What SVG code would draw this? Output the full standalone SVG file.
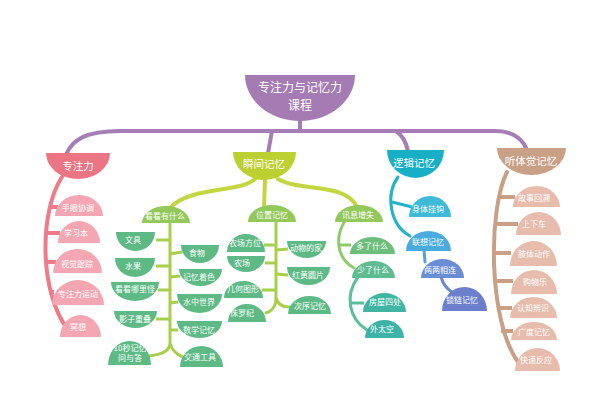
<svg xmlns="http://www.w3.org/2000/svg" width="600" height="400" viewBox="0 0 600 400">
<style>
text{font-family:"Noto Sans CJK SC","Noto Sans",sans-serif;fill:#fff;text-anchor:middle}
.t{font-size:8px}
.m{font-size:10.5px}
.r{font-size:12px}
.c{fill:none;stroke-width:4;stroke-linecap:round}
.thin{stroke-width:3}
.b{stroke-linecap:butt}
</style>
<rect width="600" height="400" fill="#fff"/>
<g id="connectors">
<path class="c" stroke="#A57EB6" d="M300 120 L300 131 M66 155 C72 140 85 131 120 131 L495 131 C515 131 523 140 527 150 M272 131 L268 153 M396 131 C402 135 406 142 408 151"/>
<path class="c" stroke="#EF7A89" d="M62 177 C40 210 38 290 68 330"/>
<path class="c b" stroke="#EF7A89" d="M49 207 L58 207 M46 233 L60 233 M45 262 L56 262 M49 292 L54 292"/>
<path class="c" stroke="#C3D640" d="M255 179 C240 193 190 186 170 208 M265 180 L264 207 M278 179 C300 192 345 182 357 207"/>
<path class="c thin" stroke="#A8CF4A" d="M170 222 L170 343 C170 352 160 355 148 356 M170 343 C172 352 178 355 183 357"/>
<path class="c thin b" stroke="#A8CF4A" d="M170 240 L156 240 M170 266 L156 266 M170 290 L158 290 M170 319 L156 319 M170 254 L182 252 M170 277 L180 276 M170 303 L178 302 M170 330 L178 330"/>
<path class="c thin" stroke="#A8CF4A" d="M276 221 L276 298 C276 308 270 312 266 313 M276 298 C278 305 283 307 289 307"/>
<path class="c thin b" stroke="#A8CF4A" d="M276 245 L264 245 M276 263 L265 263 M276 290 L262 290 M276 250 L288 249 M276 274 L288 275"/>
<path class="c thin" stroke="#8FCA68" d="M345 221 C335 236 336 258 354 268"/>
<path class="c thin b" stroke="#8FCA68" d="M339 245 L351 245"/>
<path class="c thin" stroke="#5CBE9C" d="M358 277 C345 295 348 318 367 330"/>
<path class="c thin b" stroke="#5CBE9C" d="M349 303 L364 303"/>
<path class="c thin" stroke="#22B2CC" d="M398 177 C385 195 390 225 410 236"/>
<path class="c thin b" stroke="#22B2CC" d="M392 202 L412 207"/>
<path class="c thin" stroke="#58A0DC" d="M424 250 L425 262"/>
<path class="c thin" stroke="#6B88D3" d="M441 277 C443 284 447 289 452 292"/>
<path class="c" stroke="#C9A085" d="M507 172 C488 210 488 320 518 362"/>
<path class="c b" stroke="#C9A085" d="M499 197 L515 197 M496 224 L518 224 M494 253 L511 253 M495 281 L513 281 M497 308 L512 308 M501 331 L513 331"/>
</g>
<g id="root"><path fill="#A47BB2" d="M245 75 L355 75 A55 46 0 0 1 245 75 Z"/><text class="r" x="300" y="92">专注力与记忆力</text><text class="r" x="300" y="110">课程</text></g>
<g id="n-zhuanzhuli"><path fill="#EC7584" d="M46 153 L110 153 A32 26 0 0 1 46 153 Z"/><text class="m" x="78" y="170">专注力</text></g>
<g id="n-shunjian"><path fill="#BCD031" d="M233 152 L296 152 A31.5 28 0 0 1 233 152 Z"/><text class="m" x="264" y="168">瞬间记忆</text></g>
<g id="n-luoji"><path fill="#16AFC5" d="M387 150 L444 150 A28.5 28 0 0 1 387 150 Z"/><text class="m" x="414" y="167">逻辑记忆</text></g>
<g id="n-tingti"><path fill="#C9A086" d="M497 148 L566 148 A34.5 27 0 0 1 497 148 Z"/><text class="m" x="531" y="165">听体觉记忆</text></g>

<g id="n-shouyan"><path fill="#F4A7B2" d="M55 216 L103 216 A24 21 0 0 0 55 216 Z"/><text class="t" x="78" y="211">手眼协调</text></g>
<g id="n-xuexiben"><path fill="#F4A7B2" d="M58 243 L100 243 A21 22 0 0 0 58 243 Z"/><text class="t" x="76" y="236">学习本</text></g>
<g id="n-shijue"><path fill="#F4A7B2" d="M53 273 L102 273 A24.5 24 0 0 0 53 273 Z"/><text class="t" x="77" y="267">视觉跟踪</text></g>
<g id="n-yundong"><path fill="#F4A7B2" d="M52 305 L104 305 A26 25 0 0 0 52 305 Z"/><text class="t" x="78" y="297">专注力运动</text></g>
<g id="n-mingxiang"><path fill="#F4A7B2" d="M60 337 L101 337 A20.5 22 0 0 0 60 337 Z"/><text class="t" x="78" y="330">冥想</text></g>

<g id="n-kankan"><path fill="#93C95B" d="M142 223 L190 223 A24 17 0 0 0 142 223 Z"/><text class="t" x="165" y="219">看看有什么</text></g>
<g id="n-weizhi"><path fill="#93C95B" d="M248 222 L296 222 A24 17 0 0 0 248 222 Z"/><text class="t" x="272" y="218">位置记忆</text></g>
<g id="n-xunxi"><path fill="#93C95B" d="M335 222 L383 222 A24 17 0 0 0 335 222 Z"/><text class="t" x="358" y="218">讯息增失</text></g>

<g id="n-wenju"><path fill="#5DBA84" d="M116 232 L155 232 A19.5 19 0 0 1 116 232 Z"/><text class="t" x="133" y="243">文具</text></g>
<g id="n-shuiguo"><path fill="#5DBA84" d="M115 258 L155 258 A20 19 0 0 1 115 258 Z"/><text class="t" x="133" y="269">水果</text></g>
<g id="n-nali"><path fill="#5DBA84" d="M111 282 L159 282 A24 19 0 0 1 111 282 Z"/><text class="t" x="135" y="292">看看哪里怪</text></g>
<g id="n-yingzi"><path fill="#5DBA84" d="M114 311 L157 311 A21.5 17 0 0 1 114 311 Z"/><text class="t" x="135" y="322">影子重叠</text></g>
<g id="n-10miao"><path fill="#5DBA84" d="M108 365 L151 365 A21.5 24 0 0 0 108 365 Z"/><text class="t" x="130" y="351">10秒记忆</text><text class="t" x="130" y="361">问与答</text></g>
<g id="n-shiwu"><path fill="#5DBA84" d="M181 245 L219 245 A19 18 0 0 1 181 245 Z"/><text class="t" x="197" y="256">食物</text></g>
<g id="n-zhuose"><path fill="#5DBA84" d="M179 269 L222 269 A21.5 17 0 0 1 179 269 Z"/><text class="t" x="199" y="280">记忆着色</text></g>
<g id="n-shuizhong"><path fill="#5DBA84" d="M177 294 L222 294 A22.5 19 0 0 1 177 294 Z"/><text class="t" x="199" y="305">水中世界</text></g>
<g id="n-shuxue"><path fill="#5DBA84" d="M177 321 L222 321 A22.5 17 0 0 1 177 321 Z"/><text class="t" x="199" y="333">数学记忆</text></g>
<g id="n-jiaotong"><path fill="#5DBA84" d="M180 367 L223 367 A21.5 21 0 0 0 180 367 Z"/><text class="t" x="200" y="360">交通工具</text></g>

<g id="n-fangwei"><path fill="#5DBA84" d="M227 252 L265 252 A19 18 0 0 0 227 252 Z"/><text class="t" x="245" y="246">农场方位</text></g>
<g id="n-nongchang"><path fill="#5DBA84" d="M227 256 L265 256 A19 16 0 0 1 227 256 Z"/><text class="t" x="242" y="266">农场</text></g>
<g id="n-jihe"><path fill="#5DBA84" d="M224 298 L263 298 A19.5 17 0 0 0 224 298 Z"/><text class="t" x="243" y="292">几何图形</text></g>
<g id="n-zhuluoji"><path fill="#5DBA84" d="M228 322 L266 322 A19 18 0 0 0 228 322 Z"/><text class="t" x="242" y="316">侏罗纪</text></g>
<g id="n-dongwu"><path fill="#5DBA84" d="M287 241 L326 241 A19.5 17 0 0 1 287 241 Z"/><text class="t" x="306" y="251">动物的家</text></g>
<g id="n-hongHuang"><path fill="#5DBA84" d="M287 267 L330 267 A21.5 18 0 0 1 287 267 Z"/><text class="t" x="308" y="278">红黄圆片</text></g>
<g id="n-cixu"><path fill="#5DBA84" d="M288 314 L331 314 A21.5 18 0 0 0 288 314 Z"/><text class="t" x="310" y="309">次序记忆</text></g>

<g id="n-duole"><path fill="#6DBE7A" d="M350 254 L395 254 A22.5 17 0 0 0 350 254 Z"/><text class="t" x="372" y="249">多了什么</text></g>
<g id="n-shaole"><path fill="#5FBB90" d="M352 278 L395 278 A21.5 17 0 0 0 352 278 Z"/><text class="t" x="373" y="273">少了什么</text></g>
<g id="n-fangwu"><path fill="#40B6A2" d="M363 312 L406 312 A21.5 19 0 0 0 363 312 Z"/><text class="t" x="385" y="305">房屋四处</text></g>
<g id="n-waitaikong"><path fill="#3DB3A8" d="M365 338 L404 338 A19.5 18 0 0 0 365 338 Z"/><text class="t" x="382" y="332">外太空</text></g>

<g id="n-shenti"><path fill="#3DBAD8" d="M409 217 L451 217 A21 21 0 0 0 409 217 Z"/><text class="t" x="428" y="212">身体挂钩</text></g>
<g id="n-lianxiang"><path fill="#4AABE0" d="M406 251 L451 251 A22.5 20 0 0 0 406 251 Z"/><text class="t" x="428" y="245">联想记忆</text></g>
<g id="n-liangliang"><path fill="#6A8ED6" d="M421 278 L464 278 A21.5 19 0 0 0 421 278 Z"/><text class="t" x="440" y="273">两两相连</text></g>
<g id="n-suolian"><path fill="#6B7FCC" d="M442 311 L487 311 A22.5 24 0 0 0 442 311 Z"/><text class="t" x="462" y="303">锁链记忆</text></g>

<g id="n-gushi"><path fill="#E8BCAC" d="M513 207 L560 207 A23.5 21 0 0 0 513 207 Z"/><text class="t" x="534" y="201">故事回溯</text></g>
<g id="n-shangxia"><path fill="#E8BCAC" d="M516 235 L561 235 A22.5 23 0 0 0 516 235 Z"/><text class="t" x="534" y="227">上下车</text></g>
<g id="n-zhiti"><path fill="#E8BCAC" d="M510 266 L557 266 A23.5 25 0 0 0 510 266 Z"/><text class="t" x="534" y="257">肢体动作</text></g>
<g id="n-gouwu"><path fill="#E8BCAC" d="M511 294 L557 294 A23 24 0 0 0 511 294 Z"/><text class="t" x="535" y="285">购物乐</text></g>
<g id="n-renzhi"><path fill="#E8BCAC" d="M510 318 L557 318 A23.5 21 0 0 0 510 318 Z"/><text class="t" x="533" y="311">认知辨识</text></g>
<g id="n-guangdu"><path fill="#E8BCAC" d="M511 340 L557 340 A23 18 0 0 0 511 340 Z"/><text class="t" x="534" y="335">广度记忆</text></g>
<g id="n-kuaisu"><path fill="#E8BCAC" d="M515 371 L560 371 A22.5 23 0 0 0 515 371 Z"/><text class="t" x="536" y="363">快速反应</text></g>
</svg>
